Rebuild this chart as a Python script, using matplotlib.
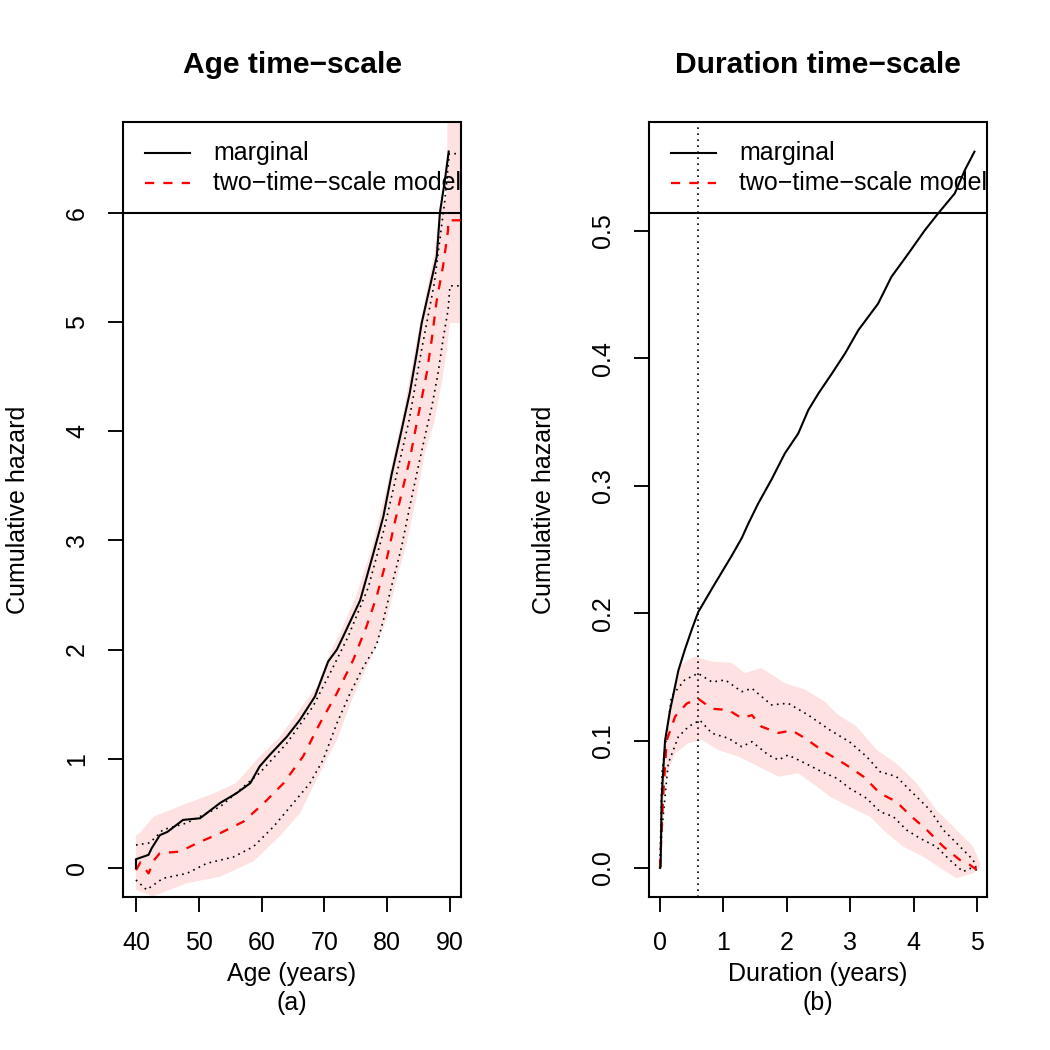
#!/usr/bin/env python3
"""
Cumulative hazard on two time scales: marginal vs two-time-scale model
"""

import numpy as np
import matplotlib
matplotlib.use("Agg")
import matplotlib.pyplot as plt

plt.rcParams['font.family'] = ['Liberation Sans', 'DejaVu Sans']

# ---- panel (a): age time-scale ----
marg_age_x = [40, 40.0, 41, 42, 42.5, 43.8, 45, 47.5, 50.2, 53.4, 56.0, 58.2, 59.7, 61.3, 64.0,
              66.1, 68.5, 70.6, 72.0, 73.0, 75.7, 77.8, 79.4, 80.7, 82.3, 83.6, 84.7, 85.5,
              86.8, 87.9, 88.4, 89.2, 89.8]
marg_age_y = [0.0, 0.08, 0.10, 0.12, 0.18, 0.30, 0.33, 0.44, 0.455, 0.595, 0.684, 0.776, 0.93,
              1.035, 1.20, 1.355, 1.57, 1.89, 2.0, 2.12, 2.45, 2.88, 3.22, 3.60, 4.01, 4.35,
              4.71, 4.99, 5.32, 5.60, 6.0, 6.3, 6.56]

est_age_x = [40, 40.7, 42, 43, 43.8, 47, 49.7, 53.4, 57.1, 60.3, 63.5, 66.6, 69.3, 72, 74.6,
             76.7, 78.3, 79.9, 81.2, 82.3, 83.6, 84.8, 86.3, 87.1, 87.9, 88.9, 89.7, 89.7, 92]
est_age_y = [-0.02, 0.05, -0.05, 0.08, 0.135, 0.15, 0.226, 0.318, 0.424, 0.59, 0.776, 1.02,
             1.325, 1.60, 1.905, 2.21, 2.48, 2.82, 3.16, 3.43, 3.74, 4.10, 4.53, 4.84, 5.20,
             5.51, 5.84, 5.93, 5.93]

lo_age_x = [40, 41.7, 44.3, 48.1, 51.3, 55.5, 58.7, 61.9, 65.0, 67.7, 69.8, 72.0, 74.1, 76.2,
            78.3, 79.4, 80.7, 82.3, 83.6, 85.2, 86.4, 87.1, 88.1, 88.9, 89.7, 90.0, 92]
lo_age_y = [-0.11, -0.20, -0.095, -0.05, 0.043, 0.10, 0.195, 0.378, 0.59, 0.776, 0.99, 1.325,
            1.60, 1.84, 2.04, 2.27, 2.58, 2.94, 3.31, 3.74, 4.05, 4.22, 4.53, 4.84, 5.11,
            5.33, 5.33]

hi_age_x = [40, 42.2, 44.3, 48.0, 53.4, 59.7, 64.0, 68.2, 71.4, 73.8, 77.0, 79.5, 81.5, 83.5,
            85.5, 87.5, 89.2, 89.9, 92]
hi_age_y = [0.21, 0.23, 0.35, 0.41, 0.56, 0.87, 1.14, 1.48, 1.84, 2.12, 2.57, 3.10, 3.60, 4.1,
            4.75, 5.35, 6.12, 6.54, 6.54]

# shaded band
bhi_age_x = [40, 40.6, 42.8, 48.1, 52.3, 56.0, 59.7, 62.9, 66.1, 68.8, 70.9, 72.5, 75.0, 77.5,
             80.0, 82.5, 85.0, 87.5, 88.4, 89.5, 89.7, 92]
bhi_age_y = [0.30, 0.32, 0.47, 0.59, 0.68, 0.78, 1.02, 1.20, 1.45, 1.66, 1.97, 2.15, 2.48, 2.92,
             3.50, 4.15, 4.92, 5.62, 6.05, 6.15, 7.5, 7.5]
blo_age_x = [40, 42.7, 48.1, 53.4, 58.7, 62.9, 66.1, 69.3, 72.0, 74.6, 77.8, 79.9, 81.5, 83.1,
             84.7, 86.0, 87.5, 88.7, 89.5, 90.0, 92]
blo_age_y = [-0.20, -0.26, -0.14, -0.08, 0.06, 0.29, 0.50, 0.87, 1.17, 1.57, 1.97, 2.27, 2.64,
             2.97, 3.40, 3.80, 4.08, 4.44, 4.74, 4.99, 4.99]

# ---- panel (b): duration time-scale ----
marg_dur_x = [0, 0.01, 0.027, 0.08, 0.16, 0.29, 0.39, 0.5, 0.604, 0.87, 1.13, 1.29, 1.39, 1.55,
              1.76, 1.97, 2.18, 2.34, 2.50, 2.71, 2.92, 3.13, 3.44, 3.65, 3.92, 4.18, 4.39,
              4.65, 4.81, 4.96]
marg_dur_y = [0, 0.001, 0.056, 0.10, 0.124, 0.155, 0.171, 0.187, 0.201, 0.2235, 0.245, 0.259,
              0.270, 0.2862, 0.305, 0.3255, 0.341, 0.3595, 0.3726, 0.388, 0.404, 0.4223,
              0.443, 0.464, 0.4825, 0.5008, 0.514, 0.5296, 0.548, 0.5623]

est_dur_x = [0, 0.05, 0.105, 0.24, 0.42, 0.60, 0.82, 1.08, 1.29, 1.45, 1.60, 1.87, 2.08, 2.29,
             2.55, 2.68, 2.94, 3.21, 3.47, 3.73, 3.94, 4.21, 4.47, 4.73, 4.89, 5.0]
est_dur_y = [0, 0.056, 0.10, 0.119, 0.129, 0.133, 0.125, 0.124, 0.1175, 0.120, 0.111, 0.106,
             0.108, 0.1018, 0.0926, 0.0887, 0.0808, 0.0717, 0.0586, 0.052, 0.0416, 0.0298,
             0.0167, 0.0063, 0.0024, -0.0016]

hi_dur_x = [0, 0.03, 0.18, 0.39, 0.60, 0.82, 1.03, 1.29, 1.45, 1.76, 2.02, 2.34, 2.68, 2.99,
            3.26, 3.47, 3.73, 3.94, 4.26, 4.47, 4.68, 4.94, 5.0]
hi_dur_y = [0, 0.074, 0.1345, 0.1476, 0.1528, 0.146, 0.1476, 0.1384, 0.141, 0.128, 0.1293,
            0.120, 0.1083, 0.099, 0.0874, 0.0756, 0.0717, 0.0612, 0.0455, 0.0298, 0.0194,
            0.0063, -0.0016]

lo_dur_x = [0, 0.03, 0.13, 0.29, 0.45, 0.63, 0.82, 1.08, 1.29, 1.45, 1.71, 1.87, 2.02, 2.29,
            2.55, 2.79, 2.99, 3.26, 3.47, 3.68, 3.89, 4.10, 4.36, 4.57, 4.78, 4.89, 5.0]
lo_dur_y = [0, 0.03, 0.082, 0.103, 0.111, 0.116, 0.1057, 0.1018, 0.0952, 0.0991, 0.0887,
            0.0848, 0.0887, 0.0822, 0.0756, 0.0704, 0.0626, 0.0547, 0.0442, 0.0403, 0.0298,
            0.0233, 0.0167, 0.0063, -0.0029, -0.0003, -0.0016]

bhi_dur_x = [0, 0.03, 0.13, 0.34, 0.55, 0.82, 1.13, 1.34, 1.60, 1.97, 2.29, 2.60, 2.79, 3.10,
             3.42, 3.73, 4.05, 4.36, 4.68, 4.94, 5.05]
bhi_dur_y = [0, 0.08, 0.121, 0.16, 0.166, 0.162, 0.161, 0.153, 0.157, 0.145, 0.140, 0.1305,
             0.121, 0.111, 0.0926, 0.082, 0.0665, 0.0455, 0.0298, 0.0167, 0.0037]
blo_dur_x = [0, 0.03, 0.08, 0.24, 0.45, 0.66, 0.92, 1.24, 1.45, 1.87, 2.18, 2.55, 2.68, 2.99,
             3.31, 3.58, 3.84, 4.15, 4.47, 4.68, 4.94, 5.05]
blo_dur_y = [0, 0.014, 0.069, 0.09, 0.098, 0.1005, 0.0926, 0.0874, 0.0822, 0.0717, 0.0743,
             0.0612, 0.056, 0.0481, 0.0403, 0.0272, 0.0167, 0.0089, -0.0016, -0.0081,
             -0.0042, 0.001]

cut_dur = 0.6

PINK = '#FEE2E2'
DOT = (0, (1, 2.6))


def draw_panel(ax, bhi, blo, lo, hi, est, marg):
    # band as one polygon: upper edge forward, lower edge backward
    px = np.r_[bhi[0], blo[0][::-1]]
    py = np.r_[bhi[1], blo[1][::-1]]
    ax.fill(px, py, color=PINK, lw=0, zorder=1)
    ax.plot(lo[0], lo[1], color='black', lw=0.8, ls=DOT, zorder=2)
    ax.plot(hi[0], hi[1], color='black', lw=0.8, ls=DOT, zorder=2)
    ax.plot(est[0], est[1], color='red', lw=1.1, dashes=(4, 4), zorder=3)
    ax.plot(marg[0], marg[1], color='black', lw=1.0, zorder=4)

    # R style legend (topleft, box clipped by the plot region)
    ax.plot([0, 1], [0.8826, 0.8826], transform=ax.transAxes, color='black', lw=1.0,
            zorder=1.5)
    ax.plot([0.065, 0.198], [0.960, 0.960], transform=ax.transAxes, color='black', lw=1.0)
    ax.plot([0.065, 0.198], [0.921, 0.921], transform=ax.transAxes, color='red', lw=1.1,
            dashes=(4, 4))
    ax.text(0.266, 0.960, 'marginal', transform=ax.transAxes, fontsize=12, va='center',
            ha='left', zorder=1.5)
    ax.text(0.266, 0.921, 'two\u2212time\u2212scale model', transform=ax.transAxes,
            fontsize=12, va='center', ha='left', zorder=1.5)

    for s in ax.spines.values():
        s.set_linewidth(1.0)
    ax.tick_params(direction='out', length=7.2, width=0.9, labelsize=12, pad=9)
    for lab in ax.get_yticklabels():
        lab.set_rotation(90)
        lab.set_va('center')


fig = plt.figure(figsize=(7, 7), dpi=150)
ax1 = fig.add_axes([0.1171, 0.1457, 0.3219, 0.7381])
ax2 = fig.add_axes([0.6181, 0.1457, 0.3219, 0.7381])

# (a)
ax1.set_xlim(37.93, 91.75)
ax1.set_ylim(-0.266, 6.83)
ax1.set_xticks([40, 50, 60, 70, 80, 90])
ax1.set_yticks(range(0, 7))
draw_panel(ax1, (bhi_age_x, bhi_age_y), (blo_age_x, blo_age_y), (lo_age_x, lo_age_y),
           (hi_age_x, hi_age_y), (est_age_x, est_age_y), (marg_age_x, marg_age_y))

# (b)
ax2.set_xlim(-0.173, 5.158)
ax2.set_ylim(-0.0228, 0.5856)
ax2.set_xticks(range(0, 6))
ax2.set_yticks([0.0, 0.1, 0.2, 0.3, 0.4, 0.5])
ax2.set_yticklabels(['0.0', '0.1', '0.2', '0.3', '0.4', '0.5'])
ax2.axvline(cut_dur, color='black', lw=0.8, ls=DOT, zorder=2)
draw_panel(ax2, (bhi_dur_x, bhi_dur_y), (blo_dur_x, blo_dur_y), (lo_dur_x, lo_dur_y),
           (hi_dur_x, hi_dur_y), (est_dur_x, est_dur_y), (marg_dur_x, marg_dur_y))

# titles and axis labels placed like R's margins
for cx, title, xlab, sub, ylx in [(0.2781, 'Age time\u2212scale', 'Age (years)', '(a)', 0.0171),
                                  (0.7790, 'Duration time\u2212scale', 'Duration (years)', '(b)', 0.518)]:
    fig.text(cx, 0.9305, title, fontsize=14.4, fontweight='bold', ha='center', va='baseline')
    fig.text(cx, 0.0724, xlab, fontsize=12, ha='center', va='center')
    fig.text(cx, 0.0452, sub, fontsize=12, ha='center', va='center')
    fig.text(ylx, 0.5148, 'Cumulative hazard', fontsize=12, rotation=90, ha='center',
             va='center')

plt.savefig('out.png', dpi=150)
